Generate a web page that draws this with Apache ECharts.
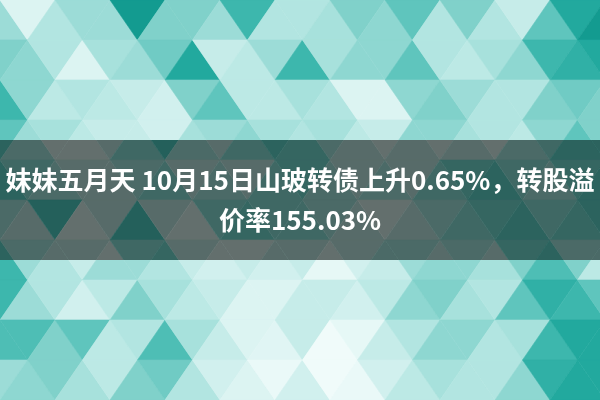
<!DOCTYPE html>
<html><head><meta charset="utf-8">
<script src="https://cdn.jsdelivr.net/npm/echarts@6/dist/echarts.min.js"></script>
<style>html,body{margin:0;padding:0;background:#fff}#c{width:600px;height:400px}</style>
</head><body><div id="c"></div>
<script>
// Background triangle shades (0 = near white, 9 = dark teal), 23 triangles per row
const bgRow0 = [4, 1, 3, 4, 4, 9, 5, 5, 4, 7, 3, 3, 3.5, 5, 4.5, 6, 3, 5, 3, 2, 6, 8, 9];
const bgRow1 = [5, 4.5, 3, 1, 3.5, 4, 5.5, 8, 2, 2.5, 4, 7, 3.5, 4.5, 4.5, 6, 3, 2.5, 3.5, 4.5, 7, 7.5, 8];
const bgRow2 = [7, 4.5, 2.5, 3, 2.5, 2, 1.5, 5, 6, 2.5, 2.5, 3.5, 3, 1, 1, 4.5, 5, 4, 3, 3, 5, 5.5, 5];
const bgRow3 = [6, 4, 3.5, 2.5, 2, 2, 1.5, 3.5, 4, 4.5, 3.5, 3, 3.5, 2.5, 2, 4.5, 4.5, 3.5, 3, 2.5, 4.5, 6, 5];
const bgRow6 = [7, 4, 3, 2, 4, 4, 3, 2, 1.5, 2, 1.5, 2, 0.5, 1.5, 2, 4, 4.5, 4.5, 3.5, 5, 6.5, 5, 2.5];
const bgRow7 = [7, 4, 3, 1.5, 2.5, 5, 3.5, 2.5, 2, 1, 1, 2, 2, 1.5, 2.5, 4.5, 5, 3.5, 3, 6, 7.5, 7, 6];
const bgRow8 = [6.5, 6.5, 5, 6, 2.5, 3, 6.5, 3.5, 2, 1, 0.8, 2, 0, 0.5, 2, 3, 4.5, 4.5, 3, 3.5, 7, 8, 8];
const bgRow9 = [4, 4.5, 5, 3.5, 2.5, 5, 5.5, 3, 1.5, 1, 0.3, 1.5, 0, 0.3, 1.5, 2.5, 3.5, 3, 3, 4.5, 7.5, 8, 8];
// Shades seen through the dark banner (0 = grey, 9 = dark teal)
const bannerRow3 = [7, 4, 2, 2, 3, 5, 8, 4, 3, 5, 7, 6, 4, 3, 2, 3, 2, 3, 2, 4, 5, 7, 7];
const bannerRow4 = [7, 5, 4, 3, 3, 4, 5, 3, 4, 3, 5, 6, 4, 3, 4, 3, 5, 6, 7, 5, 4, 6, 7];
const bannerRow5 = [4, 3, 8, 2, 3, 8, 3, 2, 5, 6, 5, 5, 4, 3, 2, 3, 4, 5, 6, 7, 5, 6, 7];
const bannerRow6 = [7, 4, 3, 3, 2, 5, 6, 3, 2, 2, 3, 3, 2, 3, 4, 4, 3, 4, 3, 6, 7, 4, 4];
const bgRowIndex = [0, 1, 2, 3, 6, 7, 8, 9];
const bannerRowIndex = [3, 4, 5, 6];
const titleLine1 = '妹妹五月天 10月15日山玻转债上升0.65%，转股溢';
const titleLine2 = '价率155.03%';

function rowsToData(rows, idx) {
  const out = [];
  rows.forEach((vals, i) => vals.forEach((v, j) => out.push([j, idx[i], v])));
  return out;
}
const bgData = rowsToData([bgRow0, bgRow1, bgRow2, bgRow3, bgRow6, bgRow7, bgRow8, bgRow9], bgRowIndex);
const bannerData = rowsToData([bannerRow3, bannerRow4, bannerRow5, bannerRow6], bannerRowIndex);

function triangle(params, api) {
  const j = api.value(0), r = api.value(1);
  const up = (j + r) % 2 === 0;
  const pts = up ? [[j, r], [j + 1, r + 1], [j - 1, r + 1]]
                 : [[j - 1, r], [j + 1, r], [j, r + 1]];
  const color = api.visual('color');
  return {
    type: 'polygon',
    shape: { points: pts.map(p => api.coord(p)) },
    style: { fill: color, stroke: color, lineWidth: 0.6 }
  };
}

const chart = echarts.init(document.getElementById('c'), null, { renderer: 'canvas' });
const xMax = 600 / 27.5;
chart.setOption({
  animation: false,
  grid: [
    { left: 0, right: 0, top: 0, bottom: 0 },
    { left: 0, right: 0, top: 140, height: 120 }
  ],
  xAxis: [
    { type: 'value', gridIndex: 0, min: 0, max: xMax, show: false },
    { type: 'value', gridIndex: 1, min: 0, max: xMax, show: false }
  ],
  yAxis: [
    { type: 'value', gridIndex: 0, min: 0, max: 10, inverse: true, show: false },
    { type: 'value', gridIndex: 1, min: 3.5, max: 6.5, inverse: true, show: false }
  ],
  visualMap: [
    { type: 'continuous', show: false, seriesIndex: 0, dimension: 2, min: 0, max: 9,
      inRange: { color: ['#f0fbfa', '#dcf4f2', '#c6ece9', '#b2e5e1', '#9cdcd7', '#80d1ca', '#5fc5bd', '#3db7ad', '#22a99e', '#139b90'] } },
    { type: 'continuous', show: false, seriesIndex: 1, dimension: 2, min: 0, max: 9,
      inRange: { color: ['#767a79', '#6c7472', '#636f6d', '#576b69', '#4b6a67', '#3f6864', '#356661', '#2c635e', '#24605b', '#1d5c57'] } }
  ],
  series: [
    { type: 'custom', xAxisIndex: 0, yAxisIndex: 0, renderItem: triangle, data: bgData, clip: true, silent: true },
    { type: 'custom', xAxisIndex: 1, yAxisIndex: 1, renderItem: triangle, data: bannerData, clip: true, silent: true }
  ],
  graphic: [
    { type: 'text', x: 300, y: 180, z: 10,
      style: { text: titleLine1, fill: '#ffffff', fontSize: 26, fontWeight: 'bold', fontFamily: '"Noto Sans CJK SC", sans-serif', align: 'center', verticalAlign: 'middle' } },
    { type: 'text', x: 300, y: 220, z: 10,
      style: { text: titleLine2, fill: '#ffffff', fontSize: 26, fontWeight: 'bold', fontFamily: '"Noto Sans CJK SC", sans-serif', align: 'center', verticalAlign: 'middle' } }
  ]
});
</script></body></html>
